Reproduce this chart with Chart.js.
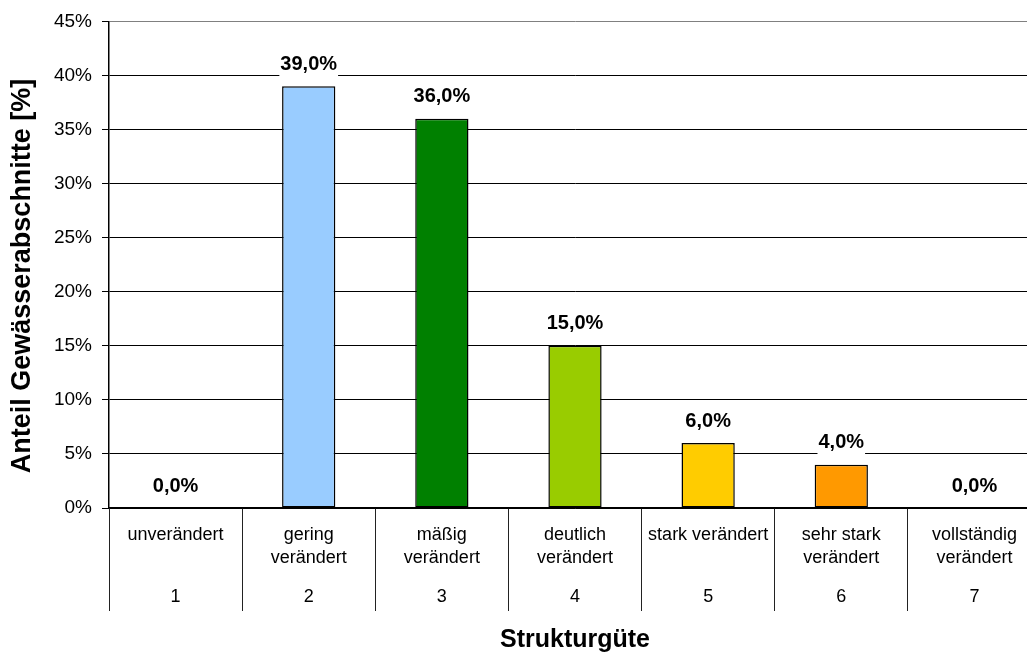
<!DOCTYPE html>
<html>
<head>
<meta charset="utf-8">
<script src="https://cdn.jsdelivr.net/npm/chart.js@4.4.1/dist/chart.umd.min.js"></script>
<style>
  html, body { margin: 0; padding: 0; background: #fff; overflow: hidden; }
  #wrap { position: relative; width: 1050px; height: 653px; }
</style>
</head>
<body>
<div id="wrap"><canvas id="c"></canvas></div>
<script>
const categoryNames = [
  ["unverändert"],
  ["gering", "verändert"],
  ["mäßig", "verändert"],
  ["deutlich", "verändert"],
  ["stark verändert"],
  ["sehr stark", "verändert"],
  ["vollständig", "verändert"]
];
const categoryNumbers = ["1", "2", "3", "4", "5", "6", "7"];
const shareValues = [0, 39, 36, 15, 6, 4, 0];
const barColors = ["#99CCFF", "#99CCFF", "#008000", "#99CC00", "#FFCC00", "#FF9900", "#FF0000"];
const yTicks = [0, 5, 10, 15, 20, 25, 30, 35, 40, 45];

const FONT = "'Liberation Sans', Arial, sans-serif";

const valueLabels = {
  id: 'valueLabels',
  afterDatasetsDraw(chart) {
    const ctx = chart.ctx;
    const meta = chart.getDatasetMeta(0);
    ctx.save();
    ctx.font = "bold 20px " + FONT;
    ctx.textAlign = 'center';
    ctx.textBaseline = 'middle';
    meta.data.forEach((bar, i) => {
      const txt = shareValues[i].toFixed(1).replace('.', ',') + '%';
      const cy = bar.y - 22;
      const w = ctx.measureText(txt).width;
      ctx.fillStyle = '#fff';
      ctx.fillRect(bar.x - w / 2 - 1, cy - 11, w + 2, 25);
      ctx.fillStyle = '#000';
      ctx.fillText(txt, bar.x, cy);
    });
    ctx.restore();
  }
};

new Chart(document.getElementById('c'), {
  type: 'bar',
  data: {
    labels: categoryNames,
    datasets: [{
      data: shareValues,
      backgroundColor: barColors,
      borderColor: '#000',
      borderWidth: 1.5,
      borderSkipped: false,
      categoryPercentage: 1,
      barPercentage: 0.4,
      xAxisID: 'x',
      yAxisID: 'y'
    }]
  },
  options: {
    responsive: true,
    maintainAspectRatio: false,
    animation: false,
    layout: { padding: { top: 20, right: 9, bottom: 0, left: 0 } },
    plugins: { legend: { display: false }, tooltip: { enabled: false } },
    scales: {
      y: {
        min: 0, max: 45,
        afterBuildTicks(scale) { scale.ticks = yTicks.map(v => ({ value: v })); },
        afterFit(scale) { scale.width = 109; },
        ticks: {
          color: '#000',
          padding: 10,
          font: { family: FONT, size: 19 },
          callback: v => v + '%'
        },
        grid: {
          color: ctx => (ctx.tick && ctx.tick.value === 45) ? '#808080' : '#000',
          lineWidth: 1,
          tickLength: 7,
          tickColor: '#000'
        },
        border: { display: true, color: '#000', width: 1.5 },
        title: {
          display: true,
          text: 'Anteil Gewässerabschnitte [%]   ',
          color: '#000',
          font: { family: FONT, size: 27, weight: 'bold', lineHeight: 1 },
          padding: { top: 9, bottom: 0 }
        }
      },
      x: {
        type: 'category',
        position: 'bottom',
        weight: 0,
        labels: categoryNames,
        offset: true,
        afterFit(scale) { scale.height = 70; },
        ticks: {
          color: '#000',
          maxRotation: 0,
          autoSkip: false,
          padding: 15 - 103,
          font: { family: FONT, size: 18, lineHeight: 1.295 }
        },
        grid: {
          offset: true,
          drawOnChartArea: false,
          drawTicks: true,
          tickLength: 103,
          tickColor: '#222',
          lineWidth: 1
        },
        border: { display: true, color: '#000', width: 1.5 }
      },
      x2: {
        type: 'category',
        position: 'bottom',
        weight: 1,
        labels: categoryNumbers,
        offset: true,
        afterFit(scale) { scale.height = 75; },
        ticks: {
          color: '#000',
          maxRotation: 0,
          autoSkip: false,
          padding: 0,
          font: { family: FONT, size: 18, lineHeight: 1.2 }
        },
        grid: { display: false },
        border: { display: false },
        title: {
          display: true,
          text: 'Strukturgüte',
          color: '#000',
          font: { family: FONT, size: 25, weight: 'bold', lineHeight: 1 },
          padding: { top: 0, bottom: 0 }
        }
      }
    }
  },
  plugins: [valueLabels]
});
</script>
</body>
</html>
